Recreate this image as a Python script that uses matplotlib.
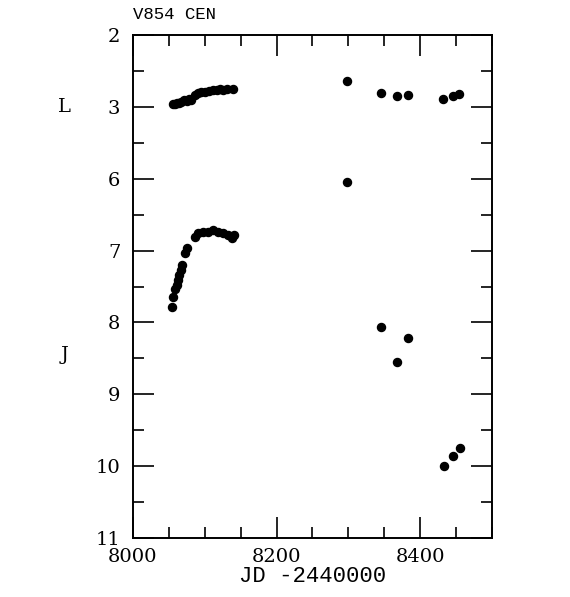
import numpy as np
import matplotlib
matplotlib.use("Agg")
import matplotlib.pyplot as plt
from matplotlib.ticker import MultipleLocator

# L band (top panel) and J band (bottom panel), JD - 2440000
l_jd = [8056, 8059, 8062, 8064, 8067, 8071, 8075, 8078, 8081, 8086, 8090,
        8095, 8100, 8106, 8111, 8117, 8121, 8126, 8131, 8139,
        8298, 8346, 8368, 8383, 8432, 8446, 8454]
l_mag = [2.96, 2.96, 2.95, 2.94, 2.93, 2.91, 2.92, 2.89, 2.90, 2.84, 2.81,
         2.79, 2.79, 2.78, 2.76, 2.77, 2.75, 2.76, 2.75, 2.75,
         2.64, 2.81, 2.85, 2.84, 2.89, 2.85, 2.82]

j_jd = [8054, 8056, 8059, 8061, 8063, 8064, 8067, 8068, 8072, 8075,
        8086, 8091, 8098, 8105, 8111, 8118, 8125, 8132, 8138, 8141,
        8298, 8345, 8368, 8383, 8433, 8446, 8455]
j_mag = [7.78, 7.64, 7.54, 7.48, 7.41, 7.34, 7.27, 7.20, 7.03, 6.97,
         6.81, 6.75, 6.74, 6.74, 6.72, 6.74, 6.75, 6.78, 6.82, 6.79,
         6.04, 8.07, 8.55, 8.21, 10.00, 9.86, 9.75]

# the L scale sits on top of the J scale, shifted by 2 mag
L_SHIFT = 2.0
ytick_pos = [4, 5, 6, 7, 8, 9, 10, 11]
ytick_lab = ["2", "3", "6", "7", "8", "9", "10", "11"]

plt.rcParams.update({
    "font.family": "DejaVu Serif",
    "xtick.direction": "in",
    "ytick.direction": "in",
    "xtick.top": True,
    "ytick.right": True,
})

fig = plt.figure(figsize=(5.70, 5.97), dpi=100)
ax = fig.add_axes([0.2333, 0.0988, 0.6298, 0.8426])

ax.plot(l_jd, np.array(l_mag) + L_SHIFT, "o", color="black", markersize=5.8)
ax.plot(j_jd, j_mag, "o", color="black", markersize=5.8)

ax.set_xlim(8000, 8500)
ax.set_ylim(11, 4)
ax.xaxis.set_major_locator(MultipleLocator(200))
ax.xaxis.set_minor_locator(MultipleLocator(50))
ax.set_yticks(ytick_pos)
ax.set_yticklabels(ytick_lab)
ax.yaxis.set_minor_locator(MultipleLocator(0.5))

ax.tick_params(which="major", length=15, width=1.2, labelsize=14)
ax.tick_params(which="minor", length=8, width=1.2)
ax.tick_params(axis="y", pad=9)
ax.tick_params(axis="x", pad=7)
for s in ax.spines.values():
    s.set_linewidth(1.4)

ax.set_xlabel("JD -2440000", family="Liberation Mono", fontsize=16, labelpad=0)
ax.text(0.0, 1.025, "V854 CEN", transform=ax.transAxes, ha="left", va="bottom",
        family="Liberation Mono", fontsize=12.5)

ax.text(-0.19, 5, "L", transform=ax.get_yaxis_transform(), ha="center",
        va="center", fontsize=14)
ax.text(-0.19, 8.45, "J", transform=ax.get_yaxis_transform(), ha="center",
        va="center", fontsize=14)

fig.savefig("out.png", dpi=100)
